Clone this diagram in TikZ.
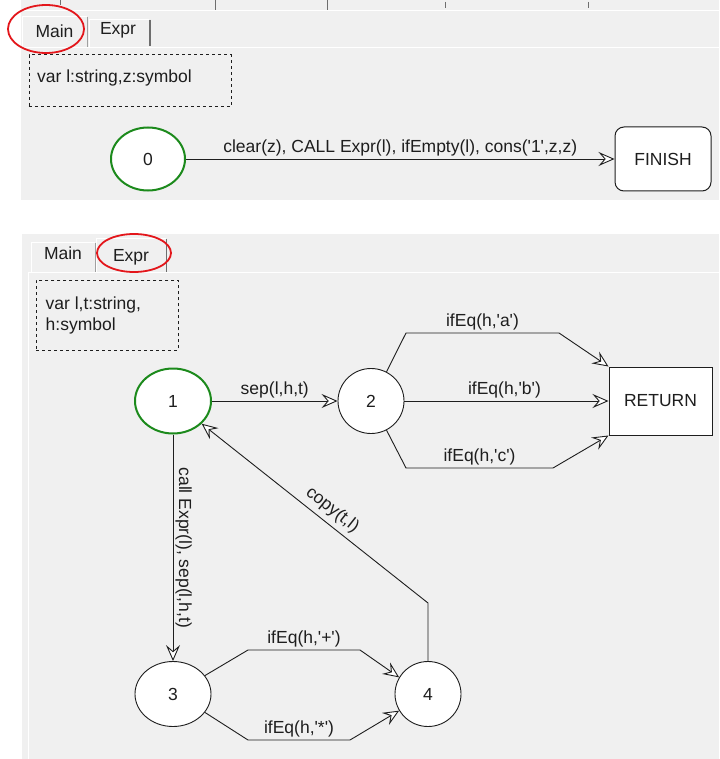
\documentclass[tikz,border=0pt]{standalone}
\usepackage{fontspec}
\setmainfont{Liberation Sans}
\usetikzlibrary{arrows.meta,shapes.geometric}

\definecolor{panel}{HTML}{F0F0F0}
\definecolor{ink}{HTML}{1E1E1E}
\definecolor{startgreen}{HTML}{1C8A1C}
\definecolor{markred}{HTML}{E3161B}
\definecolor{tabedge}{HTML}{A0A0A0}
\definecolor{tabdark}{HTML}{6E6E6E}
\newcommand\sqt{\textquotesingle}

\begin{document}
\begin{tikzpicture}[x=1pt,y=-1pt,
  every node/.style={font=\fontsize{17.5}{21}\selectfont, text=ink},
  state/.style={ellipse, draw=ink, line width=0.9pt, fill=white, inner sep=0pt,
                minimum width=66pt, minimum height=65pt},
  startstate/.style={state, draw=startgreen, line width=2pt, minimum width=76pt},
  finalbox/.style={draw=ink, line width=1pt, fill=white, inner sep=0pt},
  declbox/.style={draw=ink, line width=0.9pt, dash pattern=on 3pt off 3pt,
                  inner sep=0pt, anchor=north west},
  plain/.style={inner sep=0pt},
  arr/.style={draw=ink, line width=0.9pt,
              -{Stealth[length=16pt,width=14pt,inset=6pt,fill=white]}},
  lbl/.style={inner sep=2.5pt},
  tabmark/.style={markred, line width=1.8pt}
]
\useasboundingbox (0,0) rectangle (719,759);
\fill[white] (0,0) rectangle (719,759);

% ---------- upper window: Main ----------
\fill[panel] (21,0) rectangle (719,200);
\draw[white, line width=1.2pt] (21,10.5) -- (719,10.5);
\foreach \xx/\ya/\yb in {60/0/5, 215/0/10, 327/0/10, 445/2/8, 588/2/8}
  \draw[tabdark, line width=1pt] (\xx,\ya) -- (\xx,\yb);
\draw[white, line width=1.2pt] (21,47.5) -- (719,47.5);
% tabs
\draw[white, line width=1pt] (22.5,47) -- (22.5,16.5) -- (87,16.5);
\draw[tabedge, line width=1pt] (87.5,17) -- (87.5,47);
\draw[white, line width=1pt] (89.5,47) -- (89.5,19.5) -- (149,19.5);
\draw[tabdark, line width=1.5pt] (150,20) -- (150,46);
\node[plain] (tabMainA) at (54.5,31) {Main};
\node[plain] (tabExprA) at (118,30) {Expr};
\draw[tabmark] (46,29) ellipse [x radius=38pt, y radius=24pt];

\node[declbox, minimum width=202pt, minimum height=52pt] (declA) at (28.5,54.5) {};
\node[plain, anchor=base west] (declAtext) at (37,82.5) {var l:string,z:symbol};

\node[startstate, minimum width=74pt, minimum height=63pt] (n0) at (148,159) {0};
\node[finalbox, rounded corners=9pt, minimum width=96pt, minimum height=64pt] (finish) at (663,159) {FINISH};
\draw[arr] (n0) -- (finish)
  node[midway, above, lbl] {clear(z), CALL Expr(l), ifEmpty(l), cons(\sqt1\sqt,z,z)};

% ---------- lower window: Expr ----------
\fill[panel] (22,234) rectangle (719,759);
\draw[white, line width=1.2pt] (28,272.5) -- (719,272.5);
\draw[white, line width=1.2pt] (28.5,272) -- (28.5,759);
% tabs
\draw[white, line width=1pt] (31.5,272) -- (31.5,242.5) -- (95,242.5);
\draw[tabedge, line width=1pt] (95.5,243) -- (95.5,272);
\draw[white, line width=1pt] (96.5,272) -- (96.5,238.5) -- (166,238.5);
\draw[tabdark, line width=1.5pt] (166.5,239) -- (166.5,272);
\node[plain] (tabMainB) at (63,253) {Main};
\node[plain] (tabExprB) at (131,257) {Expr};
\draw[tabmark] (134,253) ellipse [x radius=37pt, y radius=19pt];

\node[declbox, minimum width=142pt, minimum height=70pt] (declB) at (36,280) {};
\node[plain, anchor=base west] (declBone) at (45.5,309.5) {var l,t:string,};
\node[plain, anchor=base west] (declBtwo) at (45.5,330.8) {h:symbol};

\node[startstate] (n1) at (173,401) {1};
\node[state] (n2) at (371,401) {2};
\node[finalbox, minimum width=103pt, minimum height=68pt] (ret) at (660.5,401) {RETURN};
\node[startstate, draw=ink, line width=0.9pt] (n3) at (173,694) {3};
\node[state] (n4) at (428,694) {4};

% 1 -> 2
\draw[arr] (n1) -- (n2) node[midway, above, lbl] {sep(l,h,t)};

% 2 -> RETURN
\coordinate (a1) at (406,333);
\coordinate (a2) at (559,333);
\coordinate (c1) at (406,468);
\coordinate (c2) at (553,468);
\draw[arr] (n2.62) -- (a1) -- (a2) node[midway, above, lbl] {ifEq(h,\sqt a\sqt)} -- (ret.north west);
\draw[arr] (n2) -- (ret) node[pos=0.49, above, lbl] {ifEq(h,\sqt b\sqt)};
\draw[arr] (n2.-62) -- (c1) -- (c2) node[midway, above, lbl] {ifEq(h,\sqt c\sqt)} -- (ret.south west);

% 1 -> 3
\draw[arr] (n1) -- (n3)
  node[midway, anchor=south, rotate=-90, inner sep=2pt] {call Expr(l), sep(l,h,t)};

% 3 -> 4
\coordinate (p1) at (248,650);
\coordinate (p2) at (360,650);
\coordinate (s1) at (248,740);
\coordinate (s2) at (350,740);
\draw[arr] (n3.30) -- (p1) -- (p2) node[midway, above, lbl] {ifEq(h,\sqt+\sqt)} -- (n4.150);
\draw[arr] (n3.-30) -- (s1) -- (s2) node[midway, above, lbl] {ifEq(h,\sqt*\sqt)} -- (n4.210);

% 4 -> 1
\coordinate (k1) at (428,603);
\draw[arr] (n4.north) -- (k1) -- (n1) node[pos=0.46, sloped, above, inner sep=5pt] {copy(t,l)};
\end{tikzpicture}
\end{document}
